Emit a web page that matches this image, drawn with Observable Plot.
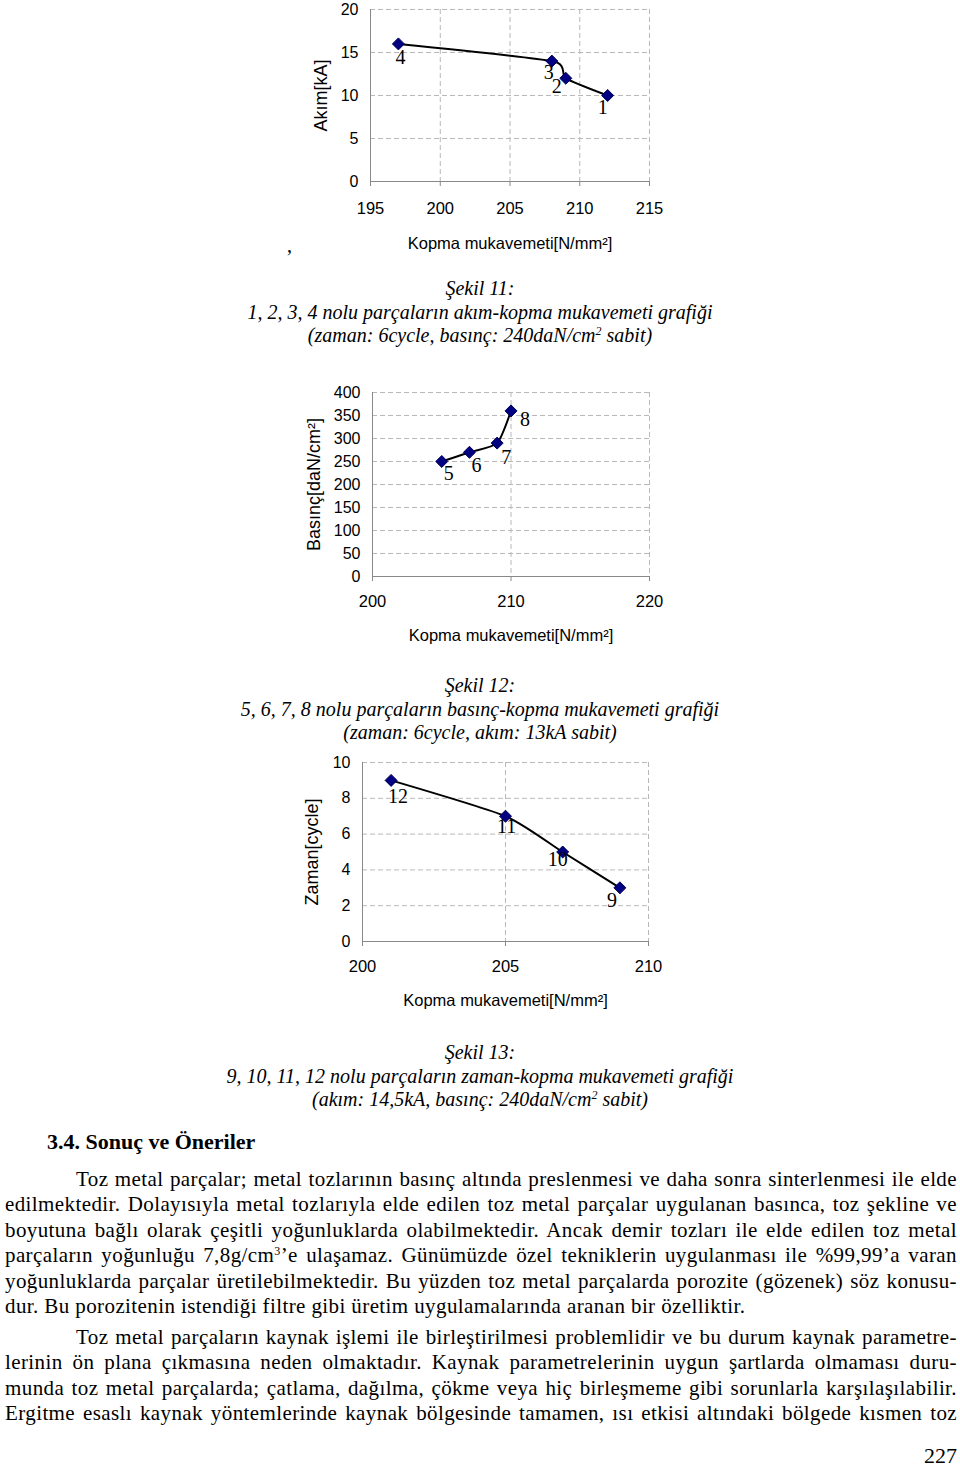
<!DOCTYPE html>
<html><head><meta charset="utf-8">
<script src="https://cdn.jsdelivr.net/npm/d3@7"></script>
<script src="https://cdn.jsdelivr.net/npm/@observablehq/plot@0.6"></script>
<style>
html,body{margin:0;padding:0;background:#fff;}
body{width:960px;height:1467px;position:relative;overflow:hidden;font-family:"Liberation Serif","Times New Roman",serif;color:#000;}
.abs{position:absolute;}
.cap{position:absolute;left:0;width:960px;text-align:center;font-style:italic;font-size:20px;line-height:23.5px;}
.para{position:absolute;left:5px;width:952px;font-size:21px;letter-spacing:0.4px;line-height:25.4px;}
.para div{text-align:justify;text-align-last:justify;white-space:nowrap;}
.para div.ind{padding-left:71px;}
.para div.last{text-align-last:left;}
sup{font-size:12px;line-height:0;vertical-align:7px;}
</style></head><body>
<div id="c1" class="abs" style="left:290px;top:0px"></div>
<div class="abs" style="left:287px;top:234px;font-size:20px">,</div>
<div class="cap" style="top:277px">Şekil 11:<br>1, 2, 3, 4 nolu parçaların akım-kopma mukavemeti grafiği<br>(zaman: 6cycle, basınç: 240daN/cm<sup>2</sup> sabit)</div>
<div id="c2" class="abs" style="left:290px;top:380px"></div>
<div class="cap" style="top:674px">Şekil 12:<br>5, 6, 7, 8 nolu parçaların basınç-kopma mukavemeti grafiği<br>(zaman: 6cycle, akım: 13kA sabit)</div>
<div id="c3" class="abs" style="left:290px;top:750px"></div>
<div class="cap" style="top:1041px">Şekil 13:<br>9, 10, 11, 12 nolu parçaların zaman-kopma mukavemeti grafiği<br>(akım: 14,5kA, basınç: 240daN/cm<sup>2</sup> sabit)</div>
<div class="abs" style="left:47px;top:1128px;font-size:22px;font-weight:bold;line-height:28px">3.4. Sonuç ve Öneriler</div>
<div class="para" style="top:1167px">
<div class="ind">Toz metal parçalar; metal tozlarının basınç altında preslenmesi ve daha sonra sinterlenmesi ile elde</div>
<div>edilmektedir. Dolayısıyla metal tozlarıyla elde edilen toz metal parçalar uygulanan basınca, toz şekline ve</div>
<div>boyutuna bağlı olarak çeşitli yoğunluklarda olabilmektedir. Ancak demir tozları ile elde edilen toz metal</div>
<div>parçaların yoğunluğu 7,8g/cm<sup>3</sup>’e ulaşamaz. Günümüzde özel tekniklerin uygulanması ile %99,99’a varan</div>
<div>yoğunluklarda parçalar üretilebilmektedir. Bu yüzden toz metal parçalarda porozite (gözenek) söz konusu-</div>
<div class="last">dur. Bu porozitenin istendiği filtre gibi üretim uygulamalarında aranan bir özelliktir.</div>
</div>
<div class="para" style="top:1325px">
<div class="ind">Toz metal parçaların kaynak işlemi ile birleştirilmesi problemlidir ve bu durum kaynak parametre-</div>
<div>lerinin ön plana çıkmasına neden olmaktadır. Kaynak parametrelerinin uygun şartlarda olmaması duru-</div>
<div>munda toz metal parçalarda; çatlama, dağılma, çökme veya hiç birleşmeme gibi sorunlarla karşılaşılabilir.</div>
<div>Ergitme esaslı kaynak yöntemlerinde kaynak bölgesinde tamamen, ısı etkisi altındaki bölgede kısmen toz</div>
</div>
<div class="abs" style="right:3px;top:1442px;font-size:22px;line-height:28px">227</div>
<script>
// ---- Data ----
const xTitle = "Kopma mukavemeti[N/mm²]";

// Şekil 11: akım vs kopma mukavemeti
const strength1 = [197, 208, 209, 212];
const current1 = [16, 14, 12, 10];
const labels1 = ["4", "3", "2", "1"];
const xTicks1 = [195, 200, 205, 210, 215];
const yTicks1 = [0, 5, 10, 15, 20];

// Şekil 12: basınç vs kopma mukavemeti
const strength2 = [205, 207, 209, 210];
const pressure2 = [250, 270, 290, 360];
const labels2 = ["5", "6", "7", "8"];
const xTicks2 = [200, 210, 220];
const yTicks2 = [0, 50, 100, 150, 200, 250, 300, 350, 400];

// Şekil 13: zaman vs kopma mukavemeti
const strength3 = [201, 205, 207, 209];
const time3 = [9, 7, 5, 3];
const labels3 = ["12", "11", "10", "9"];
const xTicks3 = [200, 205, 210];
const yTicks3 = [0, 2, 4, 6, 8, 10];

// ---- label offsets (style) ----
const offs1 = [[2, 14], [-3, 11], [-9, 8], [-5, 12]];
const offs2 = [[7, 12], [7, 13], [9, 14], [14, 9]];
const offs3 = [[7, 16], [1, 10], [-5, 8], [-8, 13]];

function chart(o) {
  const data = o.xs.map((x, i) => ({x, y: o.ys[i], label: o.labels[i]}));
  const grid = {stroke: "#b8b8b8", strokeOpacity: 1, strokeDasharray: "5,3"};
  const labelMarks = data.map((d, i) => Plot.text([d], {
    x: "x", y: "y", text: "label", dx: o.offs[i][0], dy: o.offs[i][1],
    fontFamily: '"Liberation Serif", serif', fontSize: 20, fill: "black"
  }));
  return Plot.plot({
    width: o.width, height: o.height,
    marginLeft: o.ml, marginRight: o.mr, marginTop: o.mt, marginBottom: o.mb,
    style: {fontFamily: '"Liberation Sans", Arial, sans-serif', fontSize: "16px", color: "black", background: "transparent", overflow: "visible"},
    x: {domain: [o.xTicks[0], o.xTicks[o.xTicks.length - 1]]},
    y: {domain: [o.yTicks[0], o.yTicks[o.yTicks.length - 1]]},
    marks: [
      Plot.gridY(o.yTicks.slice(1), grid),
      Plot.gridX(o.xTicks.slice(1), grid),
      Plot.axisY(o.yTicks, {tickSize: 0, tickPadding: 12, fontSize: 16, fill: "black", label: null}),
      Plot.axisY([], {tickSize: 0, fontSize: 18, fill: "black",
        label: o.yLabel, labelAnchor: "center", labelArrow: "none", labelOffset: o.yLabelOffset}),
      Plot.axisX(o.xTicks, {tickSize: 5, tickPadding: o.xPad, fontSize: 16.5, stroke: "#888", fill: "black",
        label: xTitle, labelAnchor: "center", labelArrow: "none", labelOffset: o.xLabelOffset}),
      Plot.ruleX([o.xTicks[0]], {stroke: "#888"}),
      Plot.ruleY([o.yTicks[0]], {stroke: "#888"}),
      Plot.line(data, {x: "x", y: "y", stroke: "black", strokeWidth: 2, curve: "cardinal", tension: 0.4}),
      Plot.dot(data, {x: "x", y: "y", symbol: "diamond2", r: 5.4, fill: "#000080", stroke: "#00005a", strokeWidth: 1}),
      ...labelMarks
    ]
  });
}

document.getElementById("c1").append(chart({
  xs: strength1, ys: current1, labels: labels1, offs: offs1,
  xTicks: xTicks1, yTicks: yTicks1, yLabel: "Akım[kA]",
  width: 380, height: 260, ml: 80, mr: 21, mt: 9, mb: 79, yLabelOffset: 56, xLabelOffset: 67, xPad: 16
}));
document.getElementById("c2").append(chart({
  xs: strength2, ys: pressure2, labels: labels2, offs: offs2,
  xTicks: xTicks2, yTicks: yTicks2, yLabel: "Basınç[daN/cm²]",
  width: 380, height: 270, ml: 82, mr: 21, mt: 12, mb: 74, yLabelOffset: 65, xLabelOffset: 64, xPad: 14
}));
document.getElementById("c3").append(chart({
  xs: strength3, ys: time3, labels: labels3, offs: offs3,
  xTicks: xTicks3, yTicks: yTicks3, yLabel: "Zaman[cycle]",
  width: 380, height: 265, ml: 72, mr: 22, mt: 12, mb: 74, yLabelOffset: 57, xLabelOffset: 64, xPad: 14
}));
</script>
</body></html>
